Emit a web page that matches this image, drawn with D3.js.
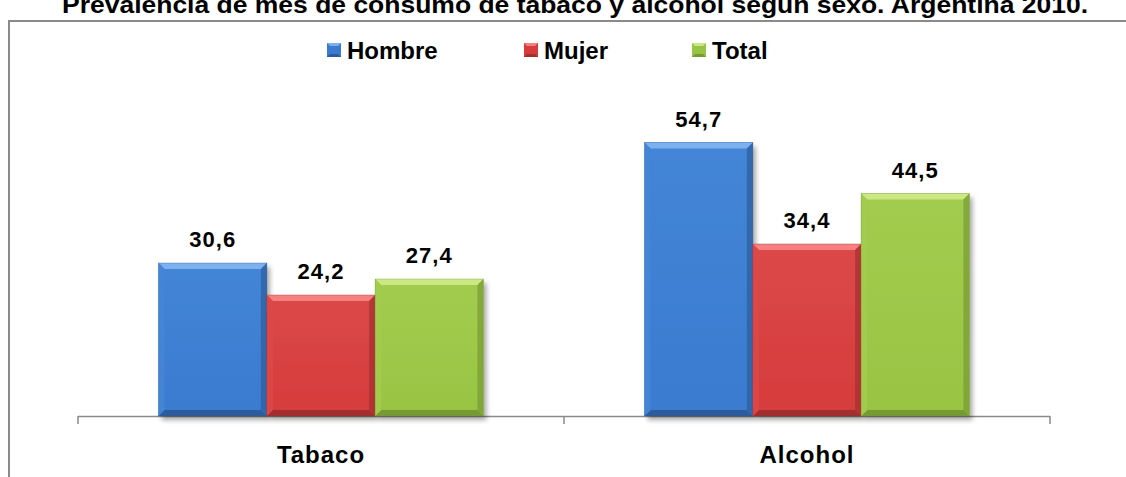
<!DOCTYPE html>
<html><head><meta charset="utf-8">
<script src="https://cdn.jsdelivr.net/npm/d3@7"></script>
<style>body{margin:0;background:#fff}svg{display:block}text{font-family:"Liberation Sans",Arial,sans-serif;font-weight:bold;fill:#000}</style>
</head><body>
<svg id="c" width="1126" height="477"></svg>
<script>
const title = "Prevalencia de mes de consumo de tabaco y alcohol según sexo. Argentina 2010.";
const categories = ["Tabaco", "Alcohol"];
const seriesNames = ["Hombre", "Mujer", "Total"];
const hombre = [30.6, 54.7];
const mujer = [24.2, 34.4];
const total = [27.4, 44.5];
const valueLabels = [["30,6","54,7"],["24,2","34,4"],["27,4","44,5"]];
const seriesValues = [hombre, mujer, total];

const colors = [
  {base:"#3a7bcf", top:"#4485d6", light:"#7db0ee", dark:"#2c5c9b"},
  {base:"#d63c3c", top:"#dc4848", light:"#f58080", dark:"#a22f2f"},
  {base:"#98c443", top:"#a2cc4e", light:"#cbe883", dark:"#789a34"}
];

const svg = d3.select("#c");
const W = 1126, H = 477;
const axisY = 416;

// frame
svg.append("path").attr("d", `M9,${H+5}V21H${W+5}`).attr("fill","none").attr("stroke","#8a8a8a").attr("stroke-width",2);

// title
svg.append("text").attr("x", 575).attr("y", 13).attr("text-anchor","middle")
  .attr("font-size", 23).attr("textLength", 1026).attr("lengthAdjust","spacingAndGlyphs").text(title);

const x0 = d3.scaleBand().domain(categories).range([78, 1050]).paddingInner(0).paddingOuter(0);
const x1 = d3.scaleBand().domain(seriesNames).range([0, x0.bandwidth()]).paddingOuter(0.744);
const y = d3.scaleLinear().domain([0, 60]).range([axisY, axisY - 300]);

const defs = svg.append("defs");
const flt = defs.append("filter").attr("id","sh").attr("x","-20%").attr("y","-20%").attr("width","150%").attr("height","150%");
flt.append("feGaussianBlur").attr("in","SourceAlpha").attr("stdDeviation",2.5);
flt.append("feOffset").attr("dx",3).attr("dy",4).attr("result","o");
flt.append("feComponentTransfer").append("feFuncA").attr("type","linear").attr("slope",0.35);
const m = flt.append("feMerge"); m.append("feMergeNode"); m.append("feMergeNode").attr("in","SourceGraphic");

seriesNames.forEach((s, si) => {
  colors[si].grad = "g"+si;
  const g = defs.append("linearGradient").attr("id","g"+si).attr("x1",0).attr("x2",0).attr("y1",0).attr("y2",1);
  g.append("stop").attr("offset","0%").attr("stop-color", colors[si].top);
  g.append("stop").attr("offset","100%").attr("stop-color", colors[si].base);
});

// axis
const ax = svg.append("g");
ax.append("line").attr("x1", x0.range()[0]).attr("x2", x0.range()[1]).attr("y1", axisY+0.5).attr("y2", axisY+0.5).attr("stroke","#8a8a8a").attr("stroke-width",1.5);
const tickXs = [x0.range()[0], ...categories.map(c => x0(c) + x0.bandwidth())];
tickXs.forEach(tx => ax.append("line").attr("x1",tx).attr("x2",tx).attr("y1",axisY).attr("y2",axisY+8).attr("stroke","#8a8a8a").attr("stroke-width",1.5));

const bev = 6;
categories.forEach((c, ci) => {
  seriesNames.forEach((s, si) => {
    const v = seriesValues[si][ci];
    const bx = x0(c) + x1(s), bw = x1.bandwidth();
    const top = y(v), bot = y(0);
    const col = colors[si];
    const gb = svg.append("g");
    gb.append("rect").attr("x",bx).attr("y",top).attr("width",bw).attr("height",bot-top)
      .attr("fill",`url(#${col.grad})`).attr("filter","url(#sh)");
    gb.append("path").attr("d",`M${bx},${top}H${bx+bw}L${bx+bw-bev},${top+bev}H${bx+bev}Z`).attr("fill",col.light);
    gb.append("path").attr("d",`M${bx},${bot}H${bx+bw}L${bx+bw-bev},${bot-bev}H${bx+bev}Z`).attr("fill",col.dark);
    gb.append("path").attr("d",`M${bx},${top}L${bx+bev},${top+bev}V${bot-bev}L${bx},${bot}Z`).attr("fill",col.top).attr("opacity",0.9);
    gb.append("path").attr("d",`M${bx+bw},${top}L${bx+bw-bev},${top+bev}V${bot-bev}L${bx+bw},${bot}Z`).attr("fill",col.dark).attr("opacity",0.7);
    gb.append("rect").attr("x",bx).attr("y",top).attr("width",bw).attr("height",bot-top).attr("fill","none").attr("stroke",col.dark).attr("stroke-width",0.6).attr("opacity",0.6);
    svg.append("text").attr("x", bx + bw/2).attr("y", top - 16).attr("text-anchor","middle")
      .attr("font-size", 22).attr("letter-spacing", 1).text(valueLabels[si][ci]);
  });
  svg.append("text").attr("x", x0(c) + x0.bandwidth()/2).attr("y", 463).attr("text-anchor","middle")
    .attr("font-size", 24).attr("letter-spacing", 1).text(c);
});

// legend
const legX = [327, 524, 692];
seriesNames.forEach((s, si) => {
  const col = colors[si];
  const lg = svg.append("g").attr("transform", `translate(${legX[si]},43)`);
  lg.append("rect").attr("width",14).attr("height",14).attr("fill",col.base);
  lg.append("path").attr("d","M0,0H14L11,3H3Z").attr("fill",col.light);
  lg.append("path").attr("d","M0,14H14L11,11H3Z").attr("fill",col.dark);
  lg.append("text").attr("x", 20).attr("y", 16).attr("font-size", 24).text(s);
});
</script>
</body></html>
